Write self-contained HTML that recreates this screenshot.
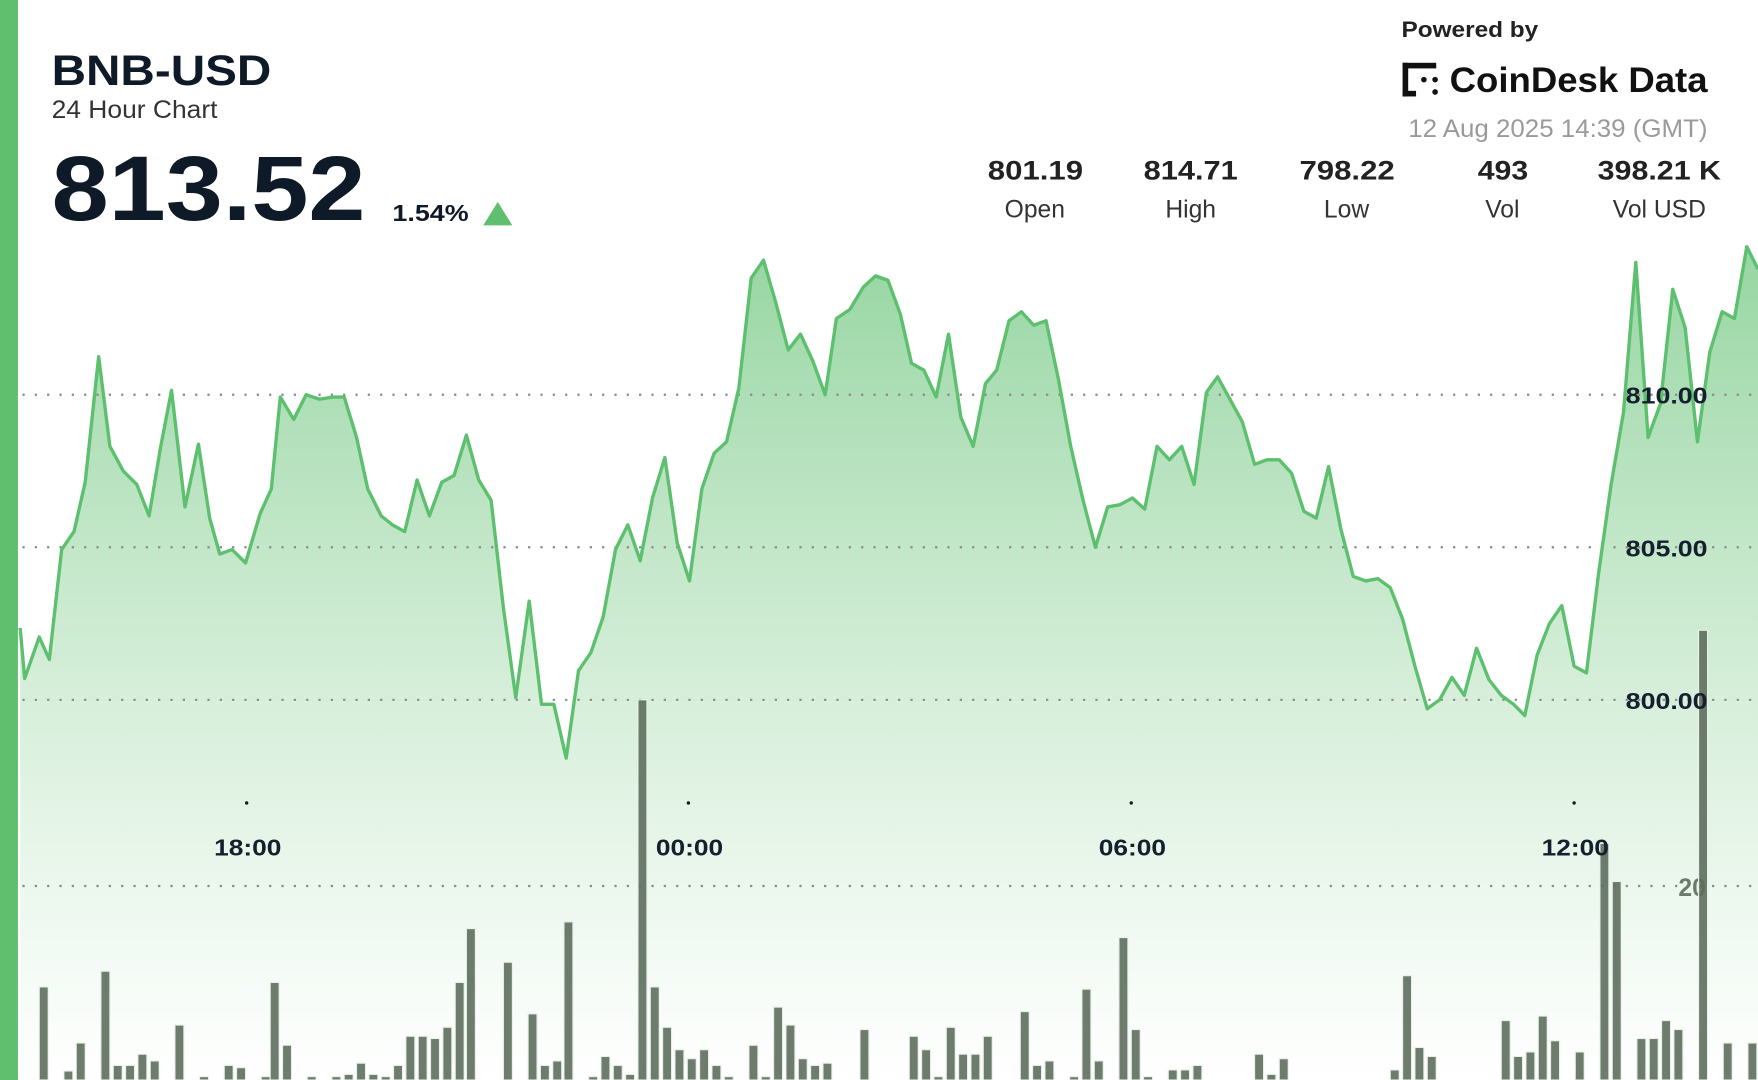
<!DOCTYPE html>
<html><head><meta charset="utf-8"><style>
html,body{margin:0;padding:0;background:#fff;width:1758px;height:1080px;overflow:hidden}
svg{display:block}
text{font-family:"Liberation Sans",sans-serif}
</style></head><body>
<svg width="1758" height="1080" viewBox="0 0 1568 963" preserveAspectRatio="none" xmlns="http://www.w3.org/2000/svg">
<defs>
<linearGradient id="fill" gradientUnits="userSpaceOnUse" x1="0" y1="220" x2="0" y2="963">
<stop offset="0" stop-color="#7ccb8a" stop-opacity="0.8"/>
<stop offset="0.5" stop-color="#bfe5c5" stop-opacity="0.7"/>
<stop offset="1" stop-color="#ffffff" stop-opacity="0.6"/>
</linearGradient>
</defs>
<rect x="0" y="0" width="1568" height="963" fill="#fff"/>
<path fill="url(#fill)" stroke="none" d="M18,963 L18,560 L22,605 L35,568 L44,588 L55,490 L66,474 L76,430 L88,318 L98,398 L110,420 L122,432 L133,460 L143,400 L153,348 L165,452 L177,396 L187,462 L196,494 L207,490 L219,502 L232,458 L242,436 L250,354 L262,374 L273,352 L285,356 L297,354 L307,354 L318,390 L328,436 L340,460 L350,468 L361,474 L372,428 L383,460 L394,430 L405,424 L416,388 L427,428 L438,446 L449,542 L460,622 L472,536 L483,628 L494,628 L505,676 L516,598 L527,582 L538,550 L549,490 L560,468 L571,500 L582,444 L593,408 L604,484 L615,518 L626,436 L637,404 L648,394 L659,346 L670,248 L681,232 L692,270 L703,312 L714,298 L725,322 L736,352 L746,284 L758,276 L770,256 L781,246 L792,250 L803,280 L813,324 L824,330 L835,354 L846,298 L857,372 L868,398 L879,342 L889,330 L900,286 L911,278 L922,290 L933,286 L944,338 L955,398 L966,446 L977,488 L988,452 L999,450 L1010,444 L1021,454 L1032,398 L1043,410 L1054,398 L1065,432 L1076,350 L1086,336 L1097,356 L1108,376 L1119,414 L1130,410 L1141,410 L1152,422 L1163,456 L1174,462 L1185,416 L1196,472 L1207,514 L1218,518 L1229,516 L1240,524 L1251,552 L1262,594 L1273,632 L1284,624 L1295,604 L1306,620 L1317,578 L1328,606 L1339,620 L1350,628 L1360,638 L1371,584 L1382,556 L1393,540 L1404,594 L1415,600 L1426,510 L1437,432 L1448,368 L1459,234 L1470,390 L1481,360 L1492,258 L1503,292 L1514,394 L1525,314 L1536,278 L1547,284 L1558,220 L1568,240 L1568,963 Z"/>
<g stroke="#8a8a8a" stroke-width="2" stroke-dasharray="2 9" fill="none">
<line x1="20" y1="352" x2="1568" y2="352"/>
<line x1="20" y1="488" x2="1568" y2="488"/>
<line x1="20" y1="624" x2="1568" y2="624"/>
<line x1="20" y1="790" x2="1568" y2="790"/>
</g>
<g fill="#1a1a1a"><circle cx="220" cy="716" r="1.5"/><circle cx="614" cy="716" r="1.5"/><circle cx="1009" cy="716" r="1.5"/><circle cx="1404" cy="716" r="1.5"/></g>
<text x="1497" y="799" font-size="22" font-weight="bold" fill="#6b7b6b">20</text>
<g fill="#5d6e5d" fill-opacity="0.9" stroke="#e8f0e8" stroke-width="1">
<rect x="35" y="880" width="8" height="83"/><rect x="57" y="955" width="8" height="8"/><rect x="68" y="930" width="8" height="33"/><rect x="90" y="866" width="8" height="97"/><rect x="101" y="950" width="8" height="13"/><rect x="112" y="950" width="8" height="13"/><rect x="123" y="940" width="8" height="23"/><rect x="134" y="946" width="8" height="17"/><rect x="156" y="914" width="8" height="49"/><rect x="178" y="960" width="8" height="3"/><rect x="200" y="950" width="8" height="13"/><rect x="211" y="952" width="8" height="11"/><rect x="233" y="960" width="8" height="3"/><rect x="241" y="876" width="8" height="87"/><rect x="252" y="932" width="8" height="31"/><rect x="274" y="960" width="8" height="3"/><rect x="296" y="960" width="8" height="3"/><rect x="307" y="958" width="8" height="5"/><rect x="318" y="948" width="8" height="15"/><rect x="329" y="958" width="8" height="5"/><rect x="340" y="960" width="8" height="3"/><rect x="351" y="950" width="8" height="13"/><rect x="362" y="924" width="8" height="39"/><rect x="373" y="924" width="8" height="39"/><rect x="384" y="926" width="8" height="37"/><rect x="395" y="916" width="8" height="47"/><rect x="406" y="876" width="8" height="87"/><rect x="416" y="828" width="8" height="135"/><rect x="449" y="858" width="8" height="105"/><rect x="471" y="904" width="8" height="59"/><rect x="482" y="950" width="8" height="13"/><rect x="493" y="946" width="8" height="17"/><rect x="503" y="822" width="8" height="141"/><rect x="525" y="960" width="8" height="3"/><rect x="536" y="942" width="8" height="21"/><rect x="547" y="950" width="8" height="13"/><rect x="558" y="958" width="8" height="5"/><rect x="569" y="624" width="8" height="339"/><rect x="580" y="880" width="8" height="83"/><rect x="591" y="916" width="8" height="47"/><rect x="602" y="936" width="8" height="27"/><rect x="613" y="944" width="8" height="19"/><rect x="624" y="936" width="8" height="27"/><rect x="635" y="950" width="8" height="13"/><rect x="646" y="960" width="8" height="3"/><rect x="668" y="932" width="8" height="31"/><rect x="679" y="960" width="8" height="3"/><rect x="690" y="898" width="8" height="65"/><rect x="701" y="914" width="8" height="49"/><rect x="712" y="944" width="8" height="19"/><rect x="723" y="950" width="8" height="13"/><rect x="734" y="948" width="8" height="15"/><rect x="767" y="918" width="8" height="45"/><rect x="811" y="924" width="8" height="39"/><rect x="822" y="936" width="8" height="27"/><rect x="833" y="960" width="8" height="3"/><rect x="844" y="916" width="8" height="47"/><rect x="855" y="940" width="8" height="23"/><rect x="866" y="940" width="8" height="23"/><rect x="877" y="924" width="8" height="39"/><rect x="910" y="902" width="8" height="61"/><rect x="921" y="950" width="8" height="13"/><rect x="932" y="946" width="8" height="17"/><rect x="954" y="960" width="8" height="3"/><rect x="965" y="882" width="8" height="81"/><rect x="976" y="946" width="8" height="17"/><rect x="998" y="836" width="8" height="127"/><rect x="1009" y="918" width="8" height="45"/><rect x="1020" y="960" width="8" height="3"/><rect x="1042" y="954" width="8" height="9"/><rect x="1053" y="954" width="8" height="9"/><rect x="1064" y="950" width="8" height="13"/><rect x="1119" y="940" width="8" height="23"/><rect x="1130" y="958" width="8" height="5"/><rect x="1141" y="944" width="8" height="19"/><rect x="1240" y="954" width="8" height="9"/><rect x="1251" y="870" width="8" height="93"/><rect x="1262" y="934" width="8" height="29"/><rect x="1273" y="942" width="8" height="21"/><rect x="1339" y="910" width="8" height="53"/><rect x="1350" y="942" width="8" height="21"/><rect x="1361" y="938" width="8" height="25"/><rect x="1372" y="906" width="8" height="57"/><rect x="1383" y="928" width="8" height="35"/><rect x="1405" y="938" width="8" height="25"/><rect x="1427" y="752" width="8" height="211"/><rect x="1438" y="786" width="8" height="177"/><rect x="1460" y="926" width="8" height="37"/><rect x="1471" y="926" width="8" height="37"/><rect x="1482" y="910" width="8" height="53"/><rect x="1493" y="918" width="8" height="45"/><rect x="1515" y="562" width="8" height="401"/><rect x="1537" y="930" width="8" height="33"/><rect x="1559" y="930" width="8" height="33"/>
</g>
<polyline fill="none" stroke="#5cc06e" stroke-width="3" stroke-linejoin="round" points="18,560 22,605 35,568 44,588 55,490 66,474 76,430 88,318 98,398 110,420 122,432 133,460 143,400 153,348 165,452 177,396 187,462 196,494 207,490 219,502 232,458 242,436 250,354 262,374 273,352 285,356 297,354 307,354 318,390 328,436 340,460 350,468 361,474 372,428 383,460 394,430 405,424 416,388 427,428 438,446 449,542 460,622 472,536 483,628 494,628 505,676 516,598 527,582 538,550 549,490 560,468 571,500 582,444 593,408 604,484 615,518 626,436 637,404 648,394 659,346 670,248 681,232 692,270 703,312 714,298 725,322 736,352 746,284 758,276 770,256 781,246 792,250 803,280 813,324 824,330 835,354 846,298 857,372 868,398 879,342 889,330 900,286 911,278 922,290 933,286 944,338 955,398 966,446 977,488 988,452 999,450 1010,444 1021,454 1032,398 1043,410 1054,398 1065,432 1076,350 1086,336 1097,356 1108,376 1119,414 1130,410 1141,410 1152,422 1163,456 1174,462 1185,416 1196,472 1207,514 1218,518 1229,516 1240,524 1251,552 1262,594 1273,632 1284,624 1295,604 1306,620 1317,578 1328,606 1339,620 1350,628 1360,638 1371,584 1382,556 1393,540 1404,594 1415,600 1426,510 1437,432 1448,368 1459,234 1470,390 1481,360 1492,258 1503,292 1514,394 1525,314 1536,278 1547,284 1558,220 1568,240"/>
<g font-size="21" font-weight="bold" fill="#14202e">
<text x="1450" y="360" textLength="73" lengthAdjust="spacingAndGlyphs">810.00</text>
<text x="1450" y="496" textLength="73" lengthAdjust="spacingAndGlyphs">805.00</text>
<text x="1450" y="632" textLength="73" lengthAdjust="spacingAndGlyphs">800.00</text>
<text x="191" y="763" textLength="60" lengthAdjust="spacingAndGlyphs">18:00</text>
<text x="585" y="763" textLength="60" lengthAdjust="spacingAndGlyphs">00:00</text>
<text x="980" y="763" textLength="60" lengthAdjust="spacingAndGlyphs">06:00</text>
<text x="1375" y="763" textLength="60" lengthAdjust="spacingAndGlyphs">12:00</text>
</g>
<rect x="0" y="0" width="16" height="963" fill="#5fbf6f"/>
<text x="46" y="76" font-size="38" font-weight="bold" fill="#0f1a28" textLength="196" lengthAdjust="spacingAndGlyphs">BNB-USD</text>
<text x="46" y="105" font-size="22" fill="#333" textLength="148" lengthAdjust="spacingAndGlyphs">24 Hour Chart</text>
<text x="46" y="196" font-size="82" font-weight="bold" fill="#0f1a28" textLength="280" lengthAdjust="spacingAndGlyphs">813.52</text>
<text x="350" y="197" font-size="21" font-weight="bold" fill="#0f1a28" textLength="68" lengthAdjust="spacingAndGlyphs">1.54%</text>
<polygon points="431,201 457,201 444,180" fill="#5fbf6f"/>
<text x="1250" y="33" font-size="20" font-weight="bold" fill="#222" textLength="122" lengthAdjust="spacingAndGlyphs">Powered by</text>
<g fill="#111"><rect x="1251" y="56" width="5" height="30"/><rect x="1251" y="56" width="30" height="5"/><rect x="1251" y="81" width="12" height="5"/><circle cx="1270" cy="71" r="2.5"/><circle cx="1280" cy="71" r="2.5"/><circle cx="1280" cy="82" r="2.5"/></g>
<text x="1293" y="82" font-size="31" font-weight="bold" fill="#111" textLength="230" lengthAdjust="spacingAndGlyphs">CoinDesk Data</text>
<text x="1256" y="122" font-size="22" fill="#9a9a9a" textLength="267" lengthAdjust="spacingAndGlyphs">12 Aug 2025 14:39 (GMT)</text>
<g font-size="24" font-weight="bold" fill="#222">
<text x="881" y="160" textLength="85" lengthAdjust="spacingAndGlyphs">801.19</text>
<text x="1020" y="160" textLength="84" lengthAdjust="spacingAndGlyphs">814.71</text>
<text x="1159" y="160" textLength="85" lengthAdjust="spacingAndGlyphs">798.22</text>
<text x="1318" y="160" textLength="45" lengthAdjust="spacingAndGlyphs">493</text>
<text x="1425" y="160" textLength="110" lengthAdjust="spacingAndGlyphs">398.21 K</text>
</g>
<g font-size="22" fill="#333" text-anchor="middle">
<text x="923" y="194">Open</text><text x="1062" y="194">High</text><text x="1201" y="194">Low</text><text x="1340" y="194">Vol</text><text x="1480" y="194">Vol USD</text>
</g>
</svg>
</body></html>
